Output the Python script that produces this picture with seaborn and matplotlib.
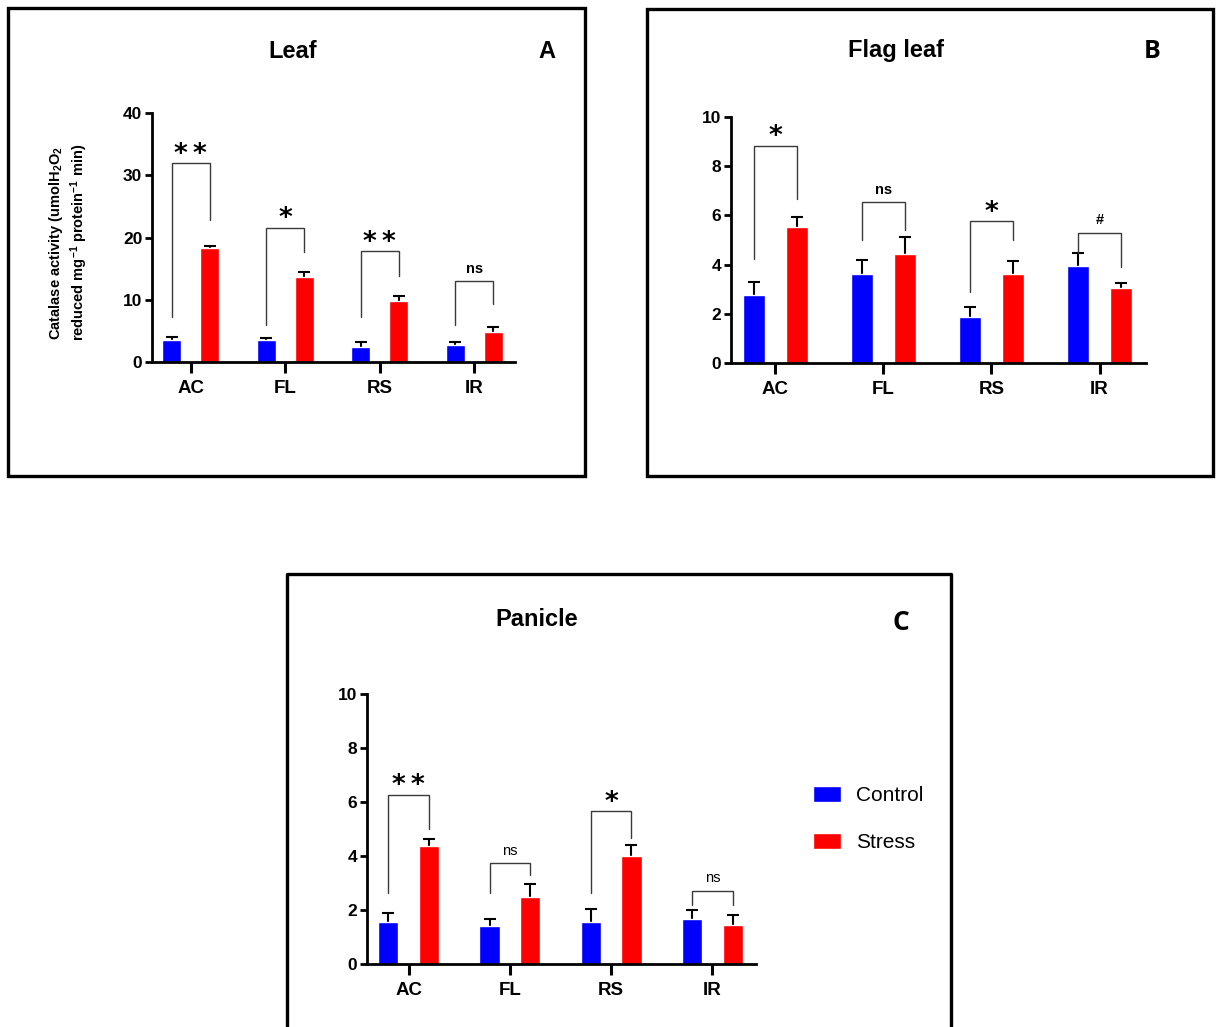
import matplotlib
matplotlib.use('Agg')
from matplotlib import pyplot as plt
from matplotlib.patches import Rectangle
import pandas as pd
import seaborn as sns

## Data ##

genotypes = ['AC', 'FL', 'RS', 'IR']
treatments = ['Control', 'Stress']

leaf_control = [3.6, 3.5, 2.4, 2.8]
leaf_stress = [18.3, 13.6, 9.85, 4.8]
leaf_control_err = [0.4, 0.35, 0.8, 0.4]
leaf_stress_err = [0.4, 0.85, 0.8, 0.75]

flag_control = [2.78, 3.62, 1.86, 3.93]
flag_stress = [5.51, 4.43, 3.63, 3.05]
flag_control_err = [0.53, 0.57, 0.42, 0.53]
flag_stress_err = [0.41, 0.7, 0.5, 0.19]

panicle_control = [1.54, 1.41, 1.54, 1.68]
panicle_stress = [4.37, 2.49, 4.0, 1.43]
panicle_control_err = [0.36, 0.27, 0.48, 0.32]
panicle_stress_err = [0.25, 0.47, 0.42, 0.37]

# brackets: (left leg bottom, top, right leg bottom, label)
leaf_brackets = [(7.3, 31.9, 22.8, '**'), (5.9, 21.6, 17.7, '*'),
                 (7.3, 17.8, 13.8, '**'), (5.9, 13.0, 9.3, 'ns')]
flag_brackets = [(4.23, 8.83, 6.67, '*'), (4.99, 6.54, 5.42, 'ns'),
                 (2.89, 5.77, 4.99, '*'), (4.47, 5.3, 3.89, '#')]
panicle_brackets = [(2.62, 6.27, 4.99, '**'), (2.62, 3.73, 3.3, 'ns'),
                    (2.62, 5.65, 4.65, '*'), (2.2, 2.72, 2.2, 'ns')]

palette = {'Control': '#0000ff', 'Stress': '#ff0000'}


def make_df(control, stress):
    return pd.DataFrame({
        'genotype': genotypes * 2,
        'treatment': ['Control'] * 4 + ['Stress'] * 4,
        'value': list(control) + list(stress),
    })


sns.set_style('ticks')
plt.rcParams['font.family'] = ['Liberation Sans', 'DejaVu Sans']
plt.rcParams['mathtext.fontset'] = 'custom'
plt.rcParams['mathtext.rm'] = 'Liberation Sans:bold'
plt.rcParams['mathtext.bf'] = 'Liberation Sans:bold'
plt.rcParams['mathtext.default'] = 'bf'
for key in ['text.color', 'axes.labelcolor', 'xtick.color', 'ytick.color']:
    plt.rcParams[key] = 'black'

fig = plt.figure(figsize=(12.18, 10.27), dpi=100)
W, H = 1218, 1027


def px_axes(left, top, right, bottom):
    return fig.add_axes([left / W, 1 - bottom / H, (right - left) / W, (bottom - top) / H])


def px_box(left, top, right, bottom):
    fig.add_artist(Rectangle((left / W, 1 - bottom / H), (right - left) / W, (bottom - top) / H,
                             transform=fig.transFigure, fill=False, ec='black', lw=2.4))


def draw_panel(ax, control, stress, c_err, s_err, brackets, ymax, step,
               ns_weight, legend=False):
    df = make_df(control, stress)
    sns.barplot(data=df, x='genotype', y='value', hue='treatment', palette=palette,
                width=0.8, gap=0.5, saturation=1, legend=legend, ax=ax, zorder=2)
    # bar centres from the drawn patches
    bars = [p for p in ax.patches if p.get_height() > 0]
    blue = sorted([p for p in bars if p.get_facecolor()[2] > 0.5], key=lambda p: p.get_x())
    red = sorted([p for p in bars if p.get_facecolor()[0] > 0.5], key=lambda p: p.get_x())
    bx = [p.get_x() + p.get_width() / 2 for p in blue]
    rx = [p.get_x() + p.get_width() / 2 for p in red]
    ax.errorbar(bx, control, yerr=c_err, fmt='none', ecolor='black', elinewidth=1.5,
                capsize=4, capthick=1.5, zorder=1)
    ax.errorbar(rx, stress, yerr=s_err, fmt='none', ecolor='black', elinewidth=1.5,
                capsize=4, capthick=1.5, zorder=1)
    for i, (lb, top, rb, lab) in enumerate(brackets):
        ax.plot([bx[i], bx[i], rx[i], rx[i]], [lb, top, top, rb], color='#3a3a3a',
                lw=1.0, solid_joinstyle='miter', zorder=3)
        xm = (bx[i] + rx[i]) / 2
        if '*' in lab:
            ax.annotate('\u2009'.join(lab), (xm, top), xytext=(0, 1), textcoords='offset points',
                        ha='center', va='baseline', fontsize=19, fontweight='bold',
                        family='DejaVu Sans')
        else:
            ax.annotate(lab, (xm, top), xytext=(0, 6), textcoords='offset points',
                        ha='center', va='baseline', fontsize=10.5,
                        fontweight=ns_weight if lab == 'ns' else 'bold')
    ax.set_ylim(0, ymax)
    ax.set_yticks(range(0, ymax + 1, step))
    ax.set_xlim(-0.41, 3.43)
    ax.set_xlabel('')
    ax.set_ylabel('')
    sns.despine(ax=ax)
    for s in ['left', 'bottom']:
        ax.spines[s].set_linewidth(2.0)
        ax.spines[s].set_color('black')
    ax.tick_params(axis='y', length=5, width=2.0, labelsize=12.5, pad=2)
    ax.tick_params(axis='x', length=8, width=2.2, labelsize=13.5, pad=5)
    for t in ax.get_xticklabels() + ax.get_yticklabels():
        t.set_fontweight('bold')
    return ax


## Panel A - Leaf ##
px_box(8, 8, 585, 476)
ax1 = px_axes(152, 113, 515, 362)
draw_panel(ax1, leaf_control, leaf_stress, leaf_control_err, leaf_stress_err,
           leaf_brackets, 40, 10, 'bold')
ax1.set_ylabel('Catalase activity (umolH$_2$O$_2$\nreduced mg$^{-1}$ protein$^{-1}$ min)',
               fontsize=10.5, fontweight='bold', linespacing=1.25)
ax1.yaxis.set_label_coords(-0.17, 0.48)
fig.text(293 / W, 1 - 52 / H, 'Leaf', ha='center', va='center', fontsize=17, fontweight='bold')
fig.text(547 / W, 1 - 52 / H, 'A', ha='center', va='center', fontsize=17, fontweight='bold')

## Panel B - Flag leaf ##
px_box(647, 9, 1213, 476)
ax2 = px_axes(731, 117, 1146, 363)
draw_panel(ax2, flag_control, flag_stress, flag_control_err, flag_stress_err,
           flag_brackets, 10, 2, 'bold')
fig.text(896 / W, 1 - 51 / H, 'Flag leaf', ha='center', va='center', fontsize=17,
         fontweight='bold')
fig.text(1152 / W, 1 - 52 / H, 'B', ha='center', va='center', fontsize=18, fontweight='bold',
         family='Open Sans')

## Panel C - Panicle ##
ax3 = px_axes(367, 694, 756, 964)
fig.add_artist(plt.Line2D([287 / W, 287 / W, 951 / W, 951 / W], [0, 1 - 574 / H, 1 - 574 / H, 0],
                          transform=fig.transFigure, color='black', lw=2.4))
draw_panel(ax3, panicle_control, panicle_stress, panicle_control_err, panicle_stress_err,
           panicle_brackets, 10, 2, 'normal', legend=True)
sns.move_legend(ax3, 'center left', bbox_to_anchor=((813 - 367) / 389, (964 - 819) / 270),
                frameon=False, title=None, fontsize=15, handlelength=1.35, handleheight=0.8,
                handletextpad=0.7, labelspacing=1.35, borderpad=0, borderaxespad=0)
fig.text(537 / W, 1 - 620 / H, 'Panicle', ha='center', va='center', fontsize=17,
         fontweight='bold')
fig.text(901 / W, 1 - 623 / H, 'C', ha='center', va='center', fontsize=19, fontweight='bold',
         family='Open Sans')

plt.savefig('out.png', dpi=100, facecolor='white')
